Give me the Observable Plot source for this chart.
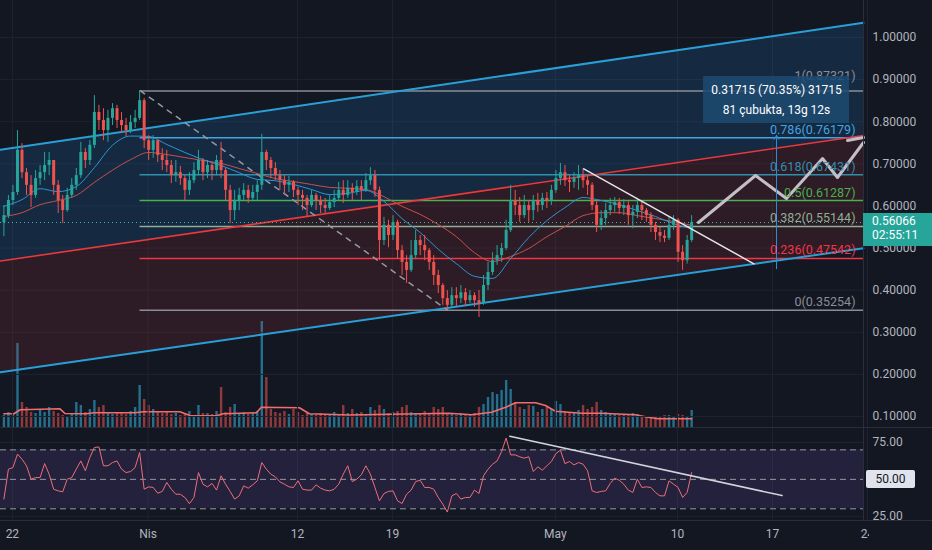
<!DOCTYPE html>
<html><head><meta charset="utf-8">
<script src="https://cdn.jsdelivr.net/npm/d3@7"></script>
<script src="https://cdn.jsdelivr.net/npm/@observablehq/plot@0.6"></script>
<style>
body{margin:0;background:#131722;}
#chart{position:relative;width:932px;height:550px;background:#131722;overflow:hidden;font-family:Roboto,sans-serif;}
#chart svg{position:absolute;left:0;}
.sep{position:absolute;background:#2a2e39;}
.box{position:absolute;font:12px Roboto,sans-serif;box-sizing:border-box;}
</style></head><body><div id="chart"></div>
<script>
// ---------- DATA ----------
const HOUR = 3600e3;
const candleStart = Date.UTC(2021, 2, 21, 9);   // first 8h bar (centre)
const candleStepHours = 8;
const firstOpen = 0.560;
const closes = [0.577,0.613,0.632,0.732,0.679,0.649,0.625,0.665,0.679,0.696,
 0.708,0.649,0.613,0.589,0.625,0.649,0.672,0.727,0.708,0.744,
 0.822,0.803,0.779,0.808,0.831,0.803,0.791,0.779,0.798,0.808,
 0.850,0.755,0.732,0.755,0.720,0.708,0.696,0.672,0.679,0.665,
 0.637,0.660,0.684,0.708,0.679,0.696,0.684,0.708,0.684,0.637,
 0.589,0.613,0.625,0.637,0.618,0.632,0.649,0.727,0.708,0.689,
 0.672,0.660,0.649,0.656,0.637,0.625,0.618,0.601,0.625,0.613,
 0.601,0.594,0.608,0.618,0.637,0.625,0.642,0.632,0.646,0.637,
 0.660,0.672,0.637,0.518,0.554,0.530,0.561,0.494,0.466,0.447,
 0.482,0.518,0.506,0.494,0.466,0.435,0.411,0.380,0.364,0.387,
 0.380,0.394,0.375,0.387,0.375,0.368,0.411,0.442,0.470,0.482,
 0.499,0.542,0.613,0.601,0.577,0.601,0.589,0.613,0.601,0.618,
 0.613,0.637,0.665,0.679,0.660,0.656,0.665,0.672,0.660,0.649,
 0.601,0.554,0.570,0.589,0.601,0.608,0.594,0.601,0.577,0.585,
 0.601,0.589,0.577,0.554,0.537,0.528,0.523,0.554,0.566,0.490,
 0.470,0.518,0.561];
const highs = [0.601,0.625,0.649,0.779,0.748,0.689,0.672,0.684,0.696,0.727,
 0.727,0.708,0.660,0.625,0.642,0.665,0.689,0.751,0.736,0.755,
 0.862,0.839,0.831,0.827,0.843,0.839,0.822,0.808,0.815,0.827,
 0.873,0.855,0.767,0.767,0.755,0.736,0.732,0.708,0.708,0.694,
 0.672,0.679,0.703,0.732,0.713,0.708,0.703,0.720,0.751,0.689,
 0.649,0.637,0.642,0.653,0.649,0.649,0.660,0.770,0.732,0.715,
 0.703,0.684,0.672,0.670,0.660,0.644,0.637,0.625,0.637,0.630,
 0.623,0.618,0.625,0.637,0.656,0.660,0.660,0.653,0.660,0.660,
 0.677,0.691,0.684,0.645,0.573,0.566,0.577,0.566,0.506,0.482,
 0.518,0.542,0.530,0.530,0.499,0.482,0.447,0.416,0.399,0.406,
 0.406,0.411,0.404,0.399,0.394,0.399,0.435,0.466,0.489,0.506,
 0.511,0.566,0.649,0.637,0.620,0.625,0.613,0.625,0.630,0.630,
 0.632,0.649,0.684,0.701,0.696,0.672,0.679,0.696,0.689,0.672,
 0.655,0.613,0.589,0.606,0.618,0.620,0.618,0.615,0.610,0.601,
 0.618,0.610,0.594,0.584,0.561,0.549,0.542,0.573,0.577,0.570,
 0.506,0.530,0.577];
const lows = [0.527,0.570,0.601,0.625,0.665,0.625,0.596,0.618,0.649,0.660,
 0.672,0.625,0.582,0.558,0.585,0.618,0.637,0.665,0.689,0.696,
 0.736,0.779,0.755,0.751,0.791,0.784,0.772,0.765,0.772,0.784,
 0.803,0.736,0.708,0.713,0.703,0.684,0.679,0.653,0.656,0.649,
 0.613,0.625,0.653,0.672,0.660,0.665,0.660,0.672,0.665,0.613,
 0.558,0.565,0.589,0.613,0.606,0.613,0.613,0.637,0.684,0.665,
 0.660,0.637,0.625,0.632,0.620,0.601,0.589,0.573,0.596,0.589,
 0.582,0.582,0.589,0.596,0.613,0.606,0.618,0.613,0.625,0.613,
 0.632,0.649,0.620,0.470,0.506,0.501,0.518,0.475,0.435,0.416,
 0.442,0.475,0.482,0.470,0.447,0.411,0.392,0.364,0.353,0.359,
 0.361,0.368,0.361,0.368,0.359,0.335,0.364,0.399,0.435,0.459,
 0.466,0.494,0.537,0.577,0.561,0.570,0.561,0.565,0.585,0.589,
 0.594,0.601,0.630,0.649,0.646,0.632,0.642,0.637,0.642,0.625,
 0.589,0.537,0.542,0.554,0.577,0.585,0.580,0.577,0.554,0.546,
 0.570,0.565,0.561,0.537,0.518,0.513,0.513,0.518,0.542,0.466,
 0.447,0.462,0.513];
const volumes = [12,15,14,84,25,20,15,14,18,15,
 20,16,14,12,11,14,25,22,15,18,
 27,20,22,14,13,15,14,13,16,20,
 42,28,22,18,15,14,16,13,14,12,
 14,16,12,22,14,14,13,16,40,15,
 20,23,14,15,13,14,16,106,50,18,
 15,14,16,13,18,15,12,14,13,12,
 14,13,12,15,13,22,14,18,14,15,
 13,20,17,22,18,14,15,16,20,22,
 15,14,13,16,14,20,18,20,14,13,
 12,14,13,12,14,20,23,30,35,33,
 37,47,38,25,20,18,22,21,15,18,
 20,18,26,23,16,14,15,17,22,18,
 20,25,17,15,14,13,12,13,12,14,
 13,11,10,9,11,10,12,12,10,13,
 12,11,17];
const rsiValues = [36.6,56.9,58.0,67.1,63.7,59.2,50.1,51.2,51.2,60.7,
 53.5,43.3,42.2,41.5,50.1,51.2,56.9,62.5,55.8,64.8,
 71.6,72.0,59.2,59.2,61.4,62.5,56.9,54.6,55.3,58.0,
 68.2,43.3,44.9,44.5,40.6,41.8,47.9,43.3,39.9,39.9,
 37.7,33.5,37.7,54.6,46.7,44.9,47.2,42.7,52.4,46.7,
 41.8,36.6,38.8,45.6,44.0,46.3,49.0,61.4,56.9,53.5,
 51.7,48.3,46.7,44.9,44.5,49.0,43.3,42.7,42.7,46.3,
 44.0,42.7,42.2,43.3,46.7,53.5,59.2,48.5,50.1,53.1,
 59.2,53.5,44.5,35.4,40.4,41.8,42.2,35.4,33.6,39.9,
 42.7,48.5,49.4,44.5,44.5,43.3,37.7,33.2,27.8,38.8,
 40.4,36.6,37.7,37.7,42.7,40.4,52.4,56.9,60.3,62.5,
 68.9,78.0,66.6,66.6,65.3,64.4,65.3,55.3,58.5,56.2,
 59.2,62.1,67.5,69.8,60.7,62.1,59.8,61.4,60.3,55.8,
 42.2,41.1,41.8,42.2,47.2,50.8,49.4,46.7,42.7,41.1,
 50.1,44.5,44.9,44.5,41.1,38.8,38.8,49.0,46.7,44.5,
 37.7,41.1,54.6];
const maEvery = 4;   // MA values read every 4th bar
const maBlue = [0.599,0.615,0.641,0.634,0.646,0.691,0.744,0.766,0.765,0.746,0.727,0.710,0.696,0.679,0.663,0.660,0.651,0.639,0.627,0.630,0.637,0.611,0.570,0.537,0.497,0.463,0.433,0.428,0.475,0.525,0.565,0.596,0.620,0.613,0.603,0.589,0.575,0.558,0.546];
const maRed = [0.575,0.584,0.603,0.613,0.625,0.656,0.685,0.710,0.727,0.722,0.715,0.708,0.701,0.689,0.677,0.665,0.658,0.651,0.644,0.642,0.639,0.622,0.599,0.580,0.556,0.527,0.489,0.468,0.480,0.499,0.527,0.551,0.577,0.584,0.584,0.577,0.570,0.563,0.554];
const volMaIdx = [0,2.2,3.6,12.4,13.5,18.3,19.8,29,30.8,38.9,41.1,47,48.4,55.8,56.9,65.3,67.5,76.3,98.3,103.4,107.8,110.9,113.1,117.5,119.7,121.9,127.6,132,139.5,142.4,144.6,152];
const volMa = [13.7,13.7,17.7,18.7,14,13.7,14.7,14.7,15.7,15.7,12,11.7,13.7,14.7,20.3,19.7,13.7,12.5,14.3,12.7,15.3,20.3,24.7,24.7,22,16.3,14.3,14.3,12.7,10.3,8.7,8.7];

const priceTicks = [0.1,0.2,0.3,0.4,0.5,0.6,0.7,0.8,0.9,1.0];
const timeTicks = ["2021-03-22","2021-04-01","2021-04-12","2021-04-19","2021-05-01","2021-05-10","2021-05-17","2021-05-24"];
const timeLabels = ["22","Nis","12","19","May","10","17","24"];
const viewDates = ["2021-03-21T03:00Z","2021-05-23T16:50Z"];
const priceView = [0.0715, 1.0879];

const channelUpper = [0.7333, 1.0349];
const channelMid = [0.4693, 0.7673];
const channelLower = [0.2052, 0.4997];

const fibRatios = [1, 0.786, 0.618, 0.5, 0.382, 0.236, 0];
const fibPrices = [0.87321, 0.76179, 0.67431, 0.61287, 0.55144, 0.47542, 0.35254];
const fibColors = ["#8a8d97", "#42a5e0", "#2f8fae", "#4caf50", "#8fae96", "#f23645", "#8a8d97"];
const fibStart = "2021-03-31T09:40Z";
const fibTrendDates = ["2021-03-31T10:30Z", "2021-04-23T01:20Z"];
const fibTrendPrices = [0.87321, 0.35254];

const downTrendDates = ["2021-05-03T02:17Z", "2021-05-15T15:00Z"];
const downTrendPrices = [0.6882, 0.4626];
const zigzagDates = ["2021-05-11T13:05Z","2021-05-15T17:55Z","2021-05-18T00:40Z","2021-05-20T16:25Z","2021-05-21T18:50Z","2021-05-23T16:50Z"];
const zigzagPrices = [0.5607, 0.6723, 0.6177, 0.7127, 0.6676, 0.7507];
const zigzag2Dates = ["2021-05-22T12:35Z", "2021-05-23T16:50Z"];
const zigzag2Prices = [0.7554, 0.7625];

const measureDate = "2021-05-17T07:05Z";
const measureFrom = 0.45082, measureTo = 0.76797;
const measureBoxDates = ["2021-05-11T22:00Z", "2021-05-22T16:10Z"];
const measureBoxPrices = [0.7958, 0.9074];
const measureLines = ["0.31715 (70.35%) 31715", "81 çubukta, 13g 12s"];
const measureLinePrices = [0.8750, 0.8266];

const lastPrice = 0.56066;
const countdown = "02:55:11";

const rsiBands = [70, 50, 30];
const rsiTicks = [75, 25];
const rsiView = [22.08, 84.5];
const rsiTrendDates = ["2021-04-27T15:30Z", "2021-05-17T16:55Z"];
const rsiTrendValues = [79.3, 39.0];
const rsiBoxValue = 50;

// ---------- BUILD ----------
const UP = "#26a69a", DOWN = "#ef5350", GRID = "#1f2330", AXIS = "#b2b5be";
const W = 932, RM = 69, MAIN_H = 428, RSI_H = 122;
const barDate = i => new Date(candleStart + i * candleStepHours * HOUR);
const xDomain = viewDates.map(d => new Date(d));
const tickDates = timeTicks.map(d => new Date(d));
const candles = closes.map((c, i) => ({
  date: barDate(i), open: i ? closes[i - 1] : firstOpen, close: c,
  high: highs[i], low: lows[i], vol: volumes[i], rsi: rsiValues[i]
}));
const ups = candles.filter(d => d.close >= d.open);
const downs = candles.filter(d => d.close < d.open);
const maData = maBlue.map((v, k) => ({date: barDate(k * maEvery), blue: v, red: maRed[k]}));
const volMaData = volMaIdx.map((k, j) => ({date: barDate(k), v: volMa[j]}));
const chan = xDomain.map((d, i) => ({date: d, up: channelUpper[i], mid: channelMid[i], low: channelLower[i]}));
const pts = (ds, vs) => ds.map((d, i) => ({date: new Date(d), v: vs[i]}));
const style = {background: "transparent", fontFamily: "Roboto, sans-serif", fontSize: "12px", overflow: "visible"};
const xOpt = {type: "utc", domain: xDomain, axis: null};

const volPlot = Plot.plot({
  width: W, height: MAIN_H, marginLeft: 0, marginRight: RM, marginTop: 0, marginBottom: 1,
  x: xOpt, y: {domain: [0, 427], axis: null}, style,
  marks: [
    Plot.ruleX(ups, {x: "date", y1: 0, y2: "vol", stroke: "#2a85a8", strokeOpacity: 0.8, strokeWidth: 2.4}),
    Plot.ruleX(downs, {x: "date", y1: 0, y2: "vol", stroke: "#b04245", strokeOpacity: 0.8, strokeWidth: 2.4}),
    Plot.line(volMaData, {x: "date", y: "v", stroke: "#f26d6d", strokeWidth: 1.6})
  ]
});

const fibStartDate = new Date(fibStart);
const mDate = new Date(measureDate);
const main = Plot.plot({
  width: W, height: MAIN_H, marginLeft: 0, marginRight: RM, marginTop: 0, marginBottom: 0,
  x: xOpt, y: {domain: priceView, axis: null}, style,
  marks: [
    Plot.ruleY(priceTicks, {stroke: GRID}),
    Plot.ruleX(tickDates, {stroke: GRID}),
    Plot.areaY(chan, {x: "date", y1: "mid", y2: "up", fill: "#2196f3", fillOpacity: 0.15}),
    Plot.areaY(chan, {x: "date", y1: "low", y2: "mid", fill: "#f23645", fillOpacity: 0.12}),
    ...fibPrices.map((p, i) => Plot.ruleY([p], {x1: () => fibStartDate, x2: () => xDomain[1], stroke: fibColors[i], strokeWidth: 1.5})),
    Plot.line(chan, {x: "date", y: "up", stroke: "#2a9fd6", strokeWidth: 2}),
    Plot.line(chan, {x: "date", y: "low", stroke: "#2a9fd6", strokeWidth: 2}),
    Plot.line(chan, {x: "date", y: "mid", stroke: "#e8393f", strokeWidth: 1.6}),
    Plot.line(pts(fibTrendDates, fibTrendPrices), {x: "date", y: "v", stroke: "#9598a1", strokeWidth: 1.5, strokeDasharray: "5,6"}),
    Plot.ruleY([lastPrice], {stroke: "#4fb3aa", strokeDasharray: "1,3"}),
    Plot.line(maData, {x: "date", y: "red", stroke: "#c8504b", strokeWidth: 1, curve: "monotone-x"}),
    Plot.line(maData, {x: "date", y: "blue", stroke: "#2b96d6", strokeWidth: 1, curve: "monotone-x"}),
    Plot.ruleX(ups, {x: "date", y1: "low", y2: "high", stroke: UP, strokeWidth: 1}),
    Plot.ruleX(downs, {x: "date", y1: "low", y2: "high", stroke: DOWN, strokeWidth: 1}),
    Plot.ruleX(ups, {x: "date", y1: "open", y2: "close", stroke: UP, strokeWidth: 3}),
    Plot.ruleX(downs, {x: "date", y1: "open", y2: "close", stroke: DOWN, strokeWidth: 3}),
    Plot.line(pts(downTrendDates, downTrendPrices), {x: "date", y: "v", stroke: "#e4e4e8", strokeWidth: 1.5}),
    Plot.line(pts(zigzagDates, zigzagPrices), {x: "date", y: "v", stroke: "#c4bec8", strokeWidth: 3}),
    Plot.line(pts(zigzag2Dates, zigzag2Prices), {x: "date", y: "v", stroke: "#c4bec8", strokeWidth: 3}),
    Plot.arrow([{x: mDate, y1: measureFrom, y2: measureTo}], {x1: "x", x2: "x", y1: "y1", y2: "y2", stroke: "#2f8fd9", strokeWidth: 1, headLength: 7}),
    ...fibPrices.map((p, i) => Plot.text([p], {x: () => xDomain[1], y: d => d, text: d => `${fibRatios[i]}(${d.toFixed(5)})`,
      fill: fibColors[i], textAnchor: "end", dx: -8, dy: i === 0 ? -15 : -8, fontSize: 12.5})),
    Plot.rect([0], {x1: () => new Date(measureBoxDates[0]), x2: () => new Date(measureBoxDates[1]),
      y1: () => measureBoxPrices[0], y2: () => measureBoxPrices[1], fill: "#1d4a72", fillOpacity: 0.85}),
    Plot.text(measureLines, {x: () => mDate, y: (d, i) => measureLinePrices[i], text: d => d, fill: "#ffffff", fontSize: 12}),
    Plot.text(priceTicks, {y: d => d, frameAnchor: "right", dx: 9, textAnchor: "start", text: d => d.toFixed(5), fill: AXIS, fontSize: 12})
  ]
});

const rsiPlot = Plot.plot({
  width: W, height: RSI_H, marginLeft: 0, marginRight: RM, marginTop: 0, marginBottom: 30,
  x: xOpt, y: {domain: rsiView, axis: null}, style,
  marks: [
    Plot.ruleX(tickDates, {stroke: GRID}),
    Plot.ruleY(rsiTicks, {stroke: GRID}),
    Plot.areaY(xDomain, {x: d => d, y1: 30, y2: 70, fill: "#7e57c2", fillOpacity: 0.16}),
    Plot.ruleY(rsiBands, {stroke: "#9598a1", strokeDasharray: "6,4"}),
    Plot.line(candles, {x: "date", y: "rsi", stroke: "#ec6f78", strokeWidth: 1}),
    Plot.line(pts(rsiTrendDates, rsiTrendValues), {x: "date", y: "v", stroke: "#d1d4dc", strokeWidth: 1.5}),
    Plot.text(rsiTicks, {y: d => d, frameAnchor: "right", dx: 9, textAnchor: "start", text: d => d.toFixed(2), fill: AXIS, fontSize: 12}),
    Plot.text(tickDates, {x: d => d, frameAnchor: "bottom", dy: 17, text: (d, i) => timeLabels[i], fill: AXIS, fontSize: 12})
  ]
});

const chart = document.getElementById("chart");
volPlot.style.top = "0px"; main.style.top = "0px"; rsiPlot.style.top = MAIN_H + "px";
chart.append(volPlot, main, rsiPlot);

function addDiv(cls, css, text) {
  const d = document.createElement("div");
  d.className = cls; Object.assign(d.style, css);
  if (text != null) d.innerHTML = text;
  chart.appendChild(d); return d;
}
// pane separators
addDiv("sep", {left: "0px", top: (MAIN_H - 1) + "px", width: W + "px", height: "1px"});
addDiv("sep", {left: "0px", top: (MAIN_H + RSI_H - 30) + "px", width: W + "px", height: "1px"});
addDiv("sep", {left: (W - RM) + "px", top: "0px", width: "1px", height: (MAIN_H + RSI_H - 30) + "px"});
// mask the clipped last time label
addDiv("box", {left: "869px", top: (MAIN_H + RSI_H - 29) + "px", width: "63px", height: "28px", background: "#131722"});
// last price label
const yLast = main.scale("y").apply(lastPrice);
addDiv("box", {left: (W - RM) + "px", top: (yLast - 9) + "px", width: RM + "px", height: "33px", background: UP,
  color: "#fff", padding: "1px 0 0 9px", lineHeight: "14px"}, lastPrice.toFixed(5) + "<br>" + countdown);
// RSI 50 label
const yR = rsiPlot.scale("y").apply(rsiBoxValue) + MAIN_H;
addDiv("box", {left: "866px", top: (yR - 9) + "px", width: "49px", height: "18px", background: "#e0e3eb",
  color: "#131722", textAlign: "center", lineHeight: "18px", borderRadius: "2px"}, rsiBoxValue.toFixed(2));
</script></body></html>
